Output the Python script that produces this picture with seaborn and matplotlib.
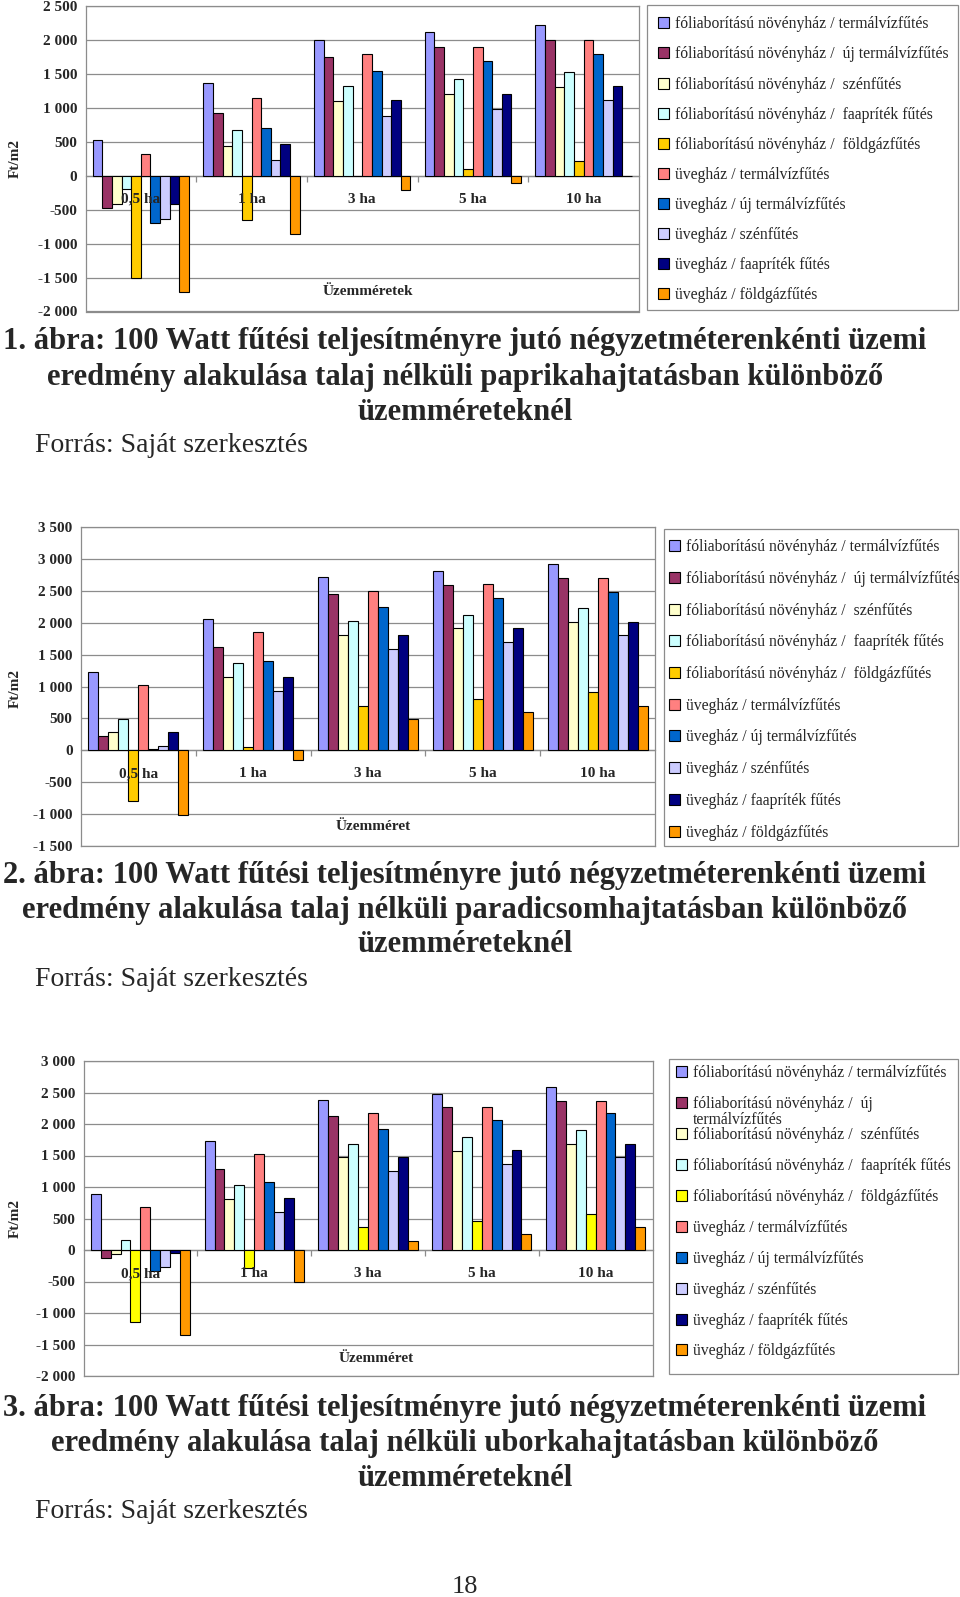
import matplotlib
matplotlib.use("Agg")
import matplotlib.pyplot as plt
import matplotlib.ticker as mticker
from matplotlib.patches import Rectangle
import seaborn as sns
import pandas as pd

sns.set_style("white")
plt.rcParams["font.family"] = ["Liberation Serif", "DejaVu Serif"]

categories = ["0,5 ha", "1 ha", "3 ha", "5 ha", "10 ha"]

series = [
    "fóliaborítású növényház / termálvízfűtés",
    "fóliaborítású növényház /  új termálvízfűtés",
    "fóliaborítású növényház /  szénfűtés",
    "fóliaborítású növényház /  faapríték fűtés",
    "fóliaborítású növényház /  földgázfűtés",
    "üvegház / termálvízfűtés",
    "üvegház / új termálvízfűtés",
    "üvegház / szénfűtés",
    "üvegház / faapríték fűtés",
    "üvegház / földgázfűtés",
]
# in the third legend the second entry wraps onto a second line
series3 = list(series)
series3[1] = "fóliaborítású növényház /  új"
series3_wrap = "termálvízfűtés"

# values per series, one value per category (0,5 / 1 / 3 / 5 / 10 ha)
paprika = [
    [520, 1360, 2005, 2110, 2215],
    [-480, 920, 1750, 1895, 1995],
    [-420, 440, 1105, 1205, 1310],
    [-200, 675, 1320, 1425, 1535],
    [-1500, -645, 0, 105, 210],
    [325, 1150, 1795, 1895, 2005],
    [-690, 705, 1540, 1685, 1795],
    [-640, 235, 885, 990, 1110],
    [-420, 460, 1110, 1205, 1320],
    [-1715, -860, -210, -110, 0],
]
paradicsom = [
    [1230, 2065, 2710, 2810, 2915],
    [225, 1620, 2450, 2595, 2700],
    [280, 1150, 1800, 1910, 2015],
    [495, 1370, 2020, 2115, 2230],
    [-795, 55, 700, 800, 910],
    [1025, 1855, 2495, 2600, 2700],
    [20, 1405, 2240, 2380, 2485],
    [65, 935, 1585, 1695, 1805],
    [285, 1155, 1805, 1910, 2015],
    [-1010, -155, 485, 600, 700],
]
uborka = [
    [895, 1735, 2375, 2480, 2590],
    [-125, 1290, 2125, 2265, 2370],
    [-70, 815, 1470, 1575, 1685],
    [155, 1035, 1685, 1790, 1910],
    [-1145, -285, 360, 455, 575],
    [685, 1520, 2170, 2275, 2370],
    [-330, 1075, 1915, 2065, 2170],
    [-275, 600, 1255, 1365, 1480],
    [-55, 820, 1475, 1580, 1690],
    [-1355, -505, 145, 255, 360],
]

colors = ["#9999FF", "#993366", "#FFFFCC", "#CCFFFF", "#FFCC00",
          "#FF8080", "#0066CC", "#CCCCFF", "#000080", "#FF9900"]
colors3 = list(colors)
colors3[4] = "#FFFF00"

captions = [
    ["1. ábra: 100 Watt fűtési teljesítményre jutó négyzetméterenkénti üzemi",
     "eredmény alakulása talaj nélküli paprikahajtatásban különböző",
     "üzemméreteknél"],
    ["2. ábra: 100 Watt fűtési teljesítményre jutó négyzetméterenkénti üzemi",
     "eredmény alakulása talaj nélküli paradicsomhajtatásban különböző",
     "üzemméreteknél"],
    ["3. ábra: 100 Watt fűtési teljesítményre jutó négyzetméterenkénti üzemi",
     "eredmény alakulása talaj nélküli uborkahajtatásban különböző",
     "üzemméreteknél"],
]
source = "Forrás: Saját szerkesztés"
xtitles = ["Üzemméretek", "Üzemméret", "Üzemméret"]
ylabel = "Ft/m2"
page_number = "18"

W, H = 960, 1597
fig = plt.figure(figsize=(W / 100, H / 100), dpi=100)
GRAY = "#8c8c8c"
LEG_FS = 11.3


def fx(px):
    return px / W


def fy(py):
    return 1 - py / H


def fmt(v, pos):
    return f"{int(round(v)):,}".replace(",", " ")


panels = [
    dict(data=paprika, labels=series, cols=colors, ylim=(-2000, 2500),
         ax=(85.5, 6, 639, 311.5), leg=(647, 5, 958, 310),
         leg_anchor=(652, 10), leg_ls=0.90,
         xt=(0.51, 0.067), ylab_y=158,
         cap_y=[342, 377.5, 412, 446]),
    dict(data=paradicsom, labels=series, cols=colors, ylim=(-1500, 3500),
         ax=(81, 527, 655, 846), leg=(664, 529, 958, 846),
         leg_anchor=(663, 533), leg_ls=1.00,
         xt=(0.51, 0.061), ylab_y=688,
         cap_y=[875, 910, 944.5, 979]),
    dict(data=uborka, labels=series3, cols=colors3, ylim=(-2000, 3000),
         ax=(83.5, 1061, 652.5, 1376), leg=(669, 1059, 958, 1374),
         leg_anchor=(670, 1059), leg_ls=0.95,
         xt=(0.515, 0.057), ylab_y=1218,
         cap_y=[1408.5, 1443, 1478.5, 1511.5]),
]

legends = []
for k, p in enumerate(panels):
    x0, y0, x1, y1 = p["ax"]
    ax = fig.add_axes([fx(x0), fy(y1), fx(x1) - fx(x0), (y1 - y0) / H])
    rows = []
    for s_label, vals in zip(p["labels"], p["data"]):
        for c, v in zip(categories, vals):
            rows.append({"size": c, "series": s_label, "value": v})
    df = pd.DataFrame(rows)
    sns.barplot(data=df, x="size", y="value", hue="series",
                hue_order=p["labels"], order=categories,
                palette=p["cols"], width=0.87, gap=0, errorbar=None,
                edgecolor="black", linewidth=0.8, saturation=1, ax=ax)
    handles, labs = ax.get_legend_handles_labels()
    if ax.get_legend() is not None:
        ax.get_legend().remove()
    lo, hi = p["ylim"]
    ax.set_ylim(lo, hi)
    ax.set_xlim(-0.5, len(categories) - 0.5)
    ax.yaxis.set_major_locator(mticker.MultipleLocator(500))
    ax.yaxis.set_major_formatter(mticker.FuncFormatter(fmt))
    ax.grid(axis="y", color=GRAY, linewidth=0.9)
    ax.set_axisbelow(True)
    for sp in ax.spines.values():
        sp.set_color(GRAY)
        sp.set_linewidth(0.9)
    ax.tick_params(axis="both", length=0, pad=6)
    ax.set_xticks(range(len(categories)))
    ax.set_xticklabels([])
    for t in ax.get_yticklabels():
        t.set_fontweight("bold")
        t.set_fontsize(11)
    ax.set_xlabel("")
    ax.set_ylabel("")

    # category axis drawn along the zero line, with ticks between categories
    sec = ax.secondary_xaxis((0 - lo) / (hi - lo))
    sec.set_xticks([i + 0.5 for i in range(len(categories) - 1)])
    sec.set_xticklabels([])
    sec.tick_params(axis="x", length=4, width=0.9, color=GRAY, direction="out")
    sec.spines["bottom"].set_color(GRAY)
    sec.spines["bottom"].set_linewidth(0.9)

    for i, c in enumerate(categories):
        ax.annotate(c, xy=(i, 0), xytext=(0, -17), textcoords="offset points",
                    ha="center", va="center", fontsize=11, fontweight="bold")
    ax.text(p["xt"][0], p["xt"][1], xtitles[k], transform=ax.transAxes,
            ha="center", va="center", fontsize=11, fontweight="bold")
    fig.text(fx(15), fy(p["ylab_y"]), ylabel, rotation=90, ha="center",
             va="center", fontsize=11, fontweight="bold")

    # legend box
    lx0, ly0, lx1, ly1 = p["leg"]
    fig.patches.append(Rectangle((fx(lx0), fy(ly1)), fx(lx1) - fx(lx0),
                                 (ly1 - ly0) / H, transform=fig.transFigure,
                                 facecolor="white", edgecolor=GRAY,
                                 linewidth=0.9))
    ax_x, ax_y = p["leg_anchor"]
    leg = fig.legend(handles, labs, loc="upper left",
                     bbox_to_anchor=(fx(ax_x), fy(ax_y)),
                     frameon=False, fontsize=LEG_FS, handlelength=0.7,
                     handleheight=0.7, handletextpad=0.35,
                     labelspacing=p["leg_ls"], borderaxespad=0, borderpad=0.4)
    legends.append(leg)

    cy = p["cap_y"]
    for j, line in enumerate(captions[k]):
        fig.text(fx(465), fy(cy[j]), line, ha="center", va="center",
                 fontsize=22, fontweight="bold")
    fig.text(fx(35), fy(cy[3]), source, ha="left", va="center", fontsize=20)

fig.text(fx(465), fy(1587), page_number, ha="center", va="center",
         fontsize=19)

# second line of the wrapped legend entry in the third chart
fig.canvas.draw()
bb = legends[2].get_texts()[1].get_window_extent()
yc = (bb.y0 + bb.y1) / 2 - 16.3
fig.text(bb.x0 / W, yc / H, series3_wrap, ha="left", va="center",
         fontsize=LEG_FS)

fig.savefig("out.png", dpi=100)
